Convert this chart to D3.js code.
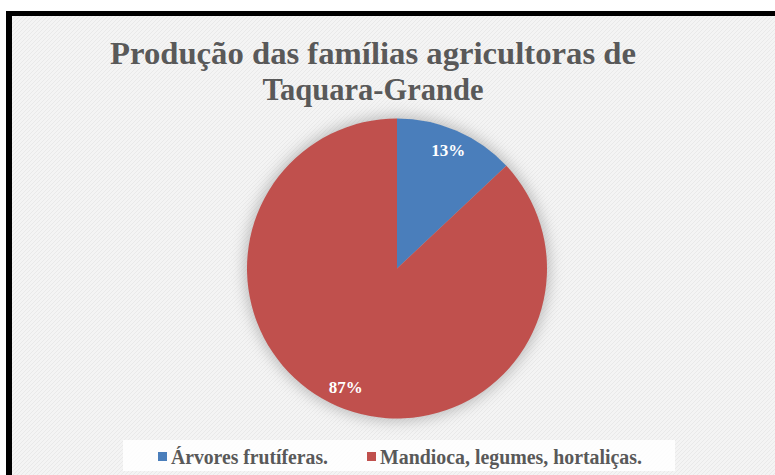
<!DOCTYPE html>
<html lang="pt">
<head>
<meta charset="UTF-8">
<title>Produção das famílias agricultoras</title>
<script src="https://d3js.org/d3.v7.min.js"></script>
<style>
    body { margin: 0; background: #fff; }
    svg { display: block; }
</style>
</head>
<body>
<div id="chart"></div>
<script>
// data
var categories = ["Árvores frutíferas.", "Mandioca, legumes, hortaliças."];
var values = [13, 87];
var labels = ["13%", "87%"];
var colors = ["#4a7ebb", "#c0504d"];
var titleLines = ["Produção das famílias agricultoras de", "Taquara-Grande"];

var W = 775, H = 475;
var svg = d3.select("#chart").append("svg")
    .attr("width", W).attr("height", H);

var defs = svg.append("defs");
var pat = defs.append("pattern")
    .attr("id", "diag").attr("width", 4).attr("height", 4)
    .attr("patternUnits", "userSpaceOnUse");
pat.append("rect").attr("width", 4).attr("height", 4).attr("fill", "#f4f4f4");
pat.append("path").attr("d", "M-1,1 l2,-2 M0,4 l4,-4 M3,5 l2,-2")
    .attr("stroke", "#e9e9e9").attr("stroke-width", 1);

var blur = defs.append("filter").attr("id", "glow")
    .attr("x", "-20%").attr("y", "-20%").attr("width", "140%").attr("height", "140%");
blur.append("feGaussianBlur").attr("stdDeviation", 7);

// frame: black border on top/left, textured area
svg.append("rect").attr("x", 6).attr("y", 11).attr("width", W - 6).attr("height", H - 11).attr("fill", "#000");
svg.append("rect").attr("x", 12).attr("y", 16).attr("width", W - 12).attr("height", H - 16).attr("fill", "url(#diag)");

// title
var title = svg.append("g").attr("font-family", "'Liberation Serif', serif")
    .attr("font-weight", "bold").attr("fill", "#595959").attr("font-size", 32);
var titleW = [526, 221];
titleLines.forEach(function (t, i) {
    title.append("text")
        .attr("x", 373).attr("y", 64 + i * 36)
        .attr("text-anchor", "middle")
        .attr("textLength", titleW[i]).attr("lengthAdjust", "spacingAndGlyphs")
        .text(t);
});

// pie
var cx = 397, cy = 268.5, r = 150;
var pie = d3.pie().sort(null).value(function (d) { return d; });
var arc = d3.arc().innerRadius(0).outerRadius(r);
var labelArc = d3.arc().innerRadius(r * 0.86).outerRadius(r * 0.86);

var g = svg.append("g").attr("transform", "translate(" + cx + "," + cy + ")");
g.append("circle").attr("r", r + 3).attr("fill", "#9a9a9a").attr("opacity", 0.6).attr("filter", "url(#glow)");

var arcs = pie(values);
g.selectAll("path.slice").data(arcs).enter().append("path")
    .attr("class", "slice")
    .attr("d", arc)
    .attr("fill", function (d, i) { return colors[i]; })
    .attr("stroke", "none");

g.selectAll("text.lbl").data(arcs).enter().append("text")
    .attr("class", "lbl")
    .attr("transform", function (d) { return "translate(" + labelArc.centroid(d) + ")"; })
    .attr("text-anchor", "middle").attr("dy", "0.35em")
    .attr("font-family", "'Liberation Serif', serif").attr("font-weight", "bold")
    .attr("font-size", 17).attr("fill", "#fff")
    .text(function (d, i) { return labels[i]; });

// legend
svg.append("rect").attr("x", 123).attr("y", 440).attr("width", 552).attr("height", 31)
    .attr("fill", "#fff").attr("opacity", 0.85);
var legX = [158, 367], legW = [157, 262];
var leg = svg.append("g").attr("font-family", "'Liberation Serif', serif")
    .attr("font-weight", "bold").attr("font-size", 20).attr("fill", "#595959");
categories.forEach(function (c, i) {
    leg.append("rect").attr("x", legX[i]).attr("y", 452).attr("width", 9).attr("height", 9)
        .attr("fill", colors[i]);
    leg.append("text").attr("x", legX[i] + 13).attr("y", 464)
        .attr("textLength", legW[i]).attr("lengthAdjust", "spacingAndGlyphs")
        .text(c);
});
</script>
</body>
</html>
